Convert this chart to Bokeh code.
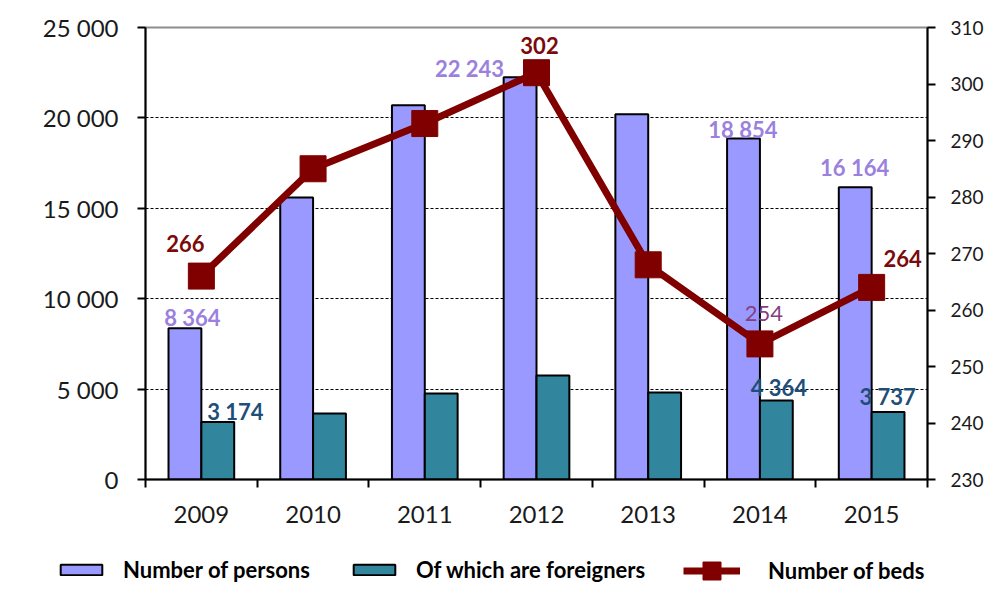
from bokeh.plotting import figure
from bokeh.layouts import column, row
from bokeh.models import (Range1d, LinearAxis, FixedTicker, Legend, LegendItem)
from bokeh.core.properties import value
from bokeh.embed import file_html
from bokeh.resources import INLINE

# ---------------- data ----------------
years = ["2009", "2010", "2011", "2012", "2013", "2014", "2015"]
persons = [8364, 15600, 20700, 22243, 20200, 18854, 16164]
foreigners = [3174, 3650, 4760, 5750, 4810, 4364, 3737]
beds = [266, 285, 293, 302, 268, 254, 264]

left_ticks = [0, 5000, 10000, 15000, 20000, 25000]
right_ticks = [230, 240, 250, 260, 270, 280, 290, 300, 310]

series_names = ["Number of persons", "Of which are foreigners", "Number of beds"]

# which values carry a data label
persons_labelled = [True, False, False, True, False, True, True]
foreigners_labelled = [True, False, False, False, False, True, True]
beds_labelled = [True, False, False, True, False, True, True]

# ---------------- layout / style ----------------
FONT = "Lato"
C_PERSONS = "#9999FF"
C_FOREIGN = "#31859C"
C_BEDS = "#800000"
n = len(years)
centers = [i + 0.5 for i in range(n)]
bw = 0.294

p = figure(width=986, height=539, output_backend="svg", toolbar_location=None,
           x_range=Range1d(0, n), y_range=Range1d(0, 25000),
           min_border_left=145, min_border_right=54, min_border_top=27,
           min_border_bottom=60, y_axis_location=None, x_axis_location=None)
p.extra_y_ranges = {"beds": Range1d(230, 310)}
p.background_fill_color = "white"
p.border_fill_color = "white"
p.outline_line_color = "#8c8c8c"
p.outline_line_width = 2

# axes
xaxis = LinearAxis(ticker=FixedTicker(ticks=centers, minor_ticks=list(range(n + 1))),
                   major_label_overrides={c: y for c, y in zip(centers, years)})
xaxis.major_tick_out = 0
xaxis.major_tick_in = 0
xaxis.minor_tick_out = 8
xaxis.minor_tick_in = 0
xaxis.minor_tick_line_color = "black"
xaxis.minor_tick_line_width = 2
xaxis.axis_line_color = "black"
xaxis.axis_line_width = 2
xaxis.major_label_standoff = 18
p.add_layout(xaxis, "below")

yl = LinearAxis(ticker=FixedTicker(ticks=left_ticks),
                major_label_overrides={v: f"{v:,}".replace(",", " ") for v in left_ticks})
yl.major_tick_out = 8
yl.major_tick_in = 0
yl.minor_tick_out = 0
yl.minor_tick_in = 0
yl.axis_line_width = 2
yl.major_tick_line_width = 2
yl.major_label_standoff = 19
p.add_layout(yl, "left")

yr = LinearAxis(y_range_name="beds", ticker=FixedTicker(ticks=right_ticks))
yr.major_tick_out = 8
yr.major_tick_in = 0
yr.minor_tick_out = 0
yr.minor_tick_in = 0
yr.axis_line_width = 2
yr.major_tick_line_width = 2
yr.major_label_standoff = 15
p.add_layout(yr, "right")

for ax, size in ((xaxis, "24px"), (yl, "24px"), (yr, "19px")):
    ax.major_label_text_font = FONT
    ax.major_label_text_font_size = size
    ax.major_label_text_color = "#1a1a1a"

# grid
p.xgrid.visible = False
p.ygrid.ticker = FixedTicker(ticks=left_ticks[1:-1])
p.ygrid.grid_line_color = "black"
p.ygrid.grid_line_dash = "3 2"
p.ygrid.grid_line_width = 1

# bars and line
p.vbar(x=[c - bw / 2 for c in centers], top=persons, bottom=0, width=bw,
       fill_color=C_PERSONS, line_color="black", line_width=2)
p.vbar(x=[c + bw / 2 for c in centers], top=foreigners, bottom=0, width=bw,
       fill_color=C_FOREIGN, line_color="black", line_width=2)
p.line(x=centers, y=beds, y_range_name="beds", line_color=C_BEDS, line_width=7)
p.scatter(x=centers, y=beds, y_range_name="beds", marker="square", size=26,
          fill_color=C_BEDS, line_color=C_BEDS)

# data labels (offsets are layout only)
def fmt(v):
    return f"{v:,}".replace(",", " ")

persons_off = [(-9, -11), None, None, (-67, -9), None, (-17, -9), (-17, -20)]
foreign_off = [(34, -11), None, None, None, None, (19, -13), (16, -15)]
beds_off = [(-16, -33), None, None, (3, -27), None, (4, -30), (31, -29)]

def add_labels(vals, flags, offs, color, weight, yname=None):
    xs, ys, ts, xo, yo = [], [], [], [], []
    for i, (v, f) in enumerate(zip(vals, flags)):
        if not f:
            continue
        xs.append(centers[i]); ys.append(v); ts.append(fmt(v))
        xo.append(offs[i][0]); yo.append(offs[i][1])
    kw = dict(y_range_name=yname) if yname else {}
    p.text(x=xs, y=ys, text=ts, x_offset=xo, y_offset=yo, text_color=color,
           text_align="center", text_baseline="middle", text_font=value(FONT),
           text_font_size="22px", text_font_style=weight, **kw)

add_labels(persons, persons_labelled, persons_off, "#9B80DE", "bold")
add_labels(foreigners, foreigners_labelled, foreign_off, "#1F4E79", "bold")
bold_beds = [True, False, False, True, False, False, True]
add_labels(beds, [f and b for f, b in zip(beds_labelled, bold_beds)], beds_off,
           "#7B0A0A", "bold", yname="beds")
add_labels(beds, [f and not b for f, b in zip(beds_labelled, bold_beds)], beds_off,
           "#86407E", "normal", yname="beds")

# ---------------- legend strip ----------------
# hidden copies of the three series, used only for their legend swatches
lg = figure(width=986, height=50, output_backend="svg", toolbar_location=None,
            x_range=Range1d(0, n), y_range=Range1d(0, 25000),
            min_border=0, x_axis_location=None, y_axis_location=None)
lg.extra_y_ranges = {"beds": Range1d(230, 310)}
lg.grid.visible = False
lg.outline_line_color = None
lg.background_fill_color = "white"
lg.border_fill_color = "white"
g1 = lg.vbar(x=centers, top=persons, bottom=0, width=bw, visible=False,
             fill_color=C_PERSONS, line_color="black", line_width=2)
g2 = lg.vbar(x=centers, top=foreigners, bottom=0, width=bw, visible=False,
             fill_color=C_FOREIGN, line_color="black", line_width=2)
g3 = lg.line(x=centers, y=beds, y_range_name="beds", visible=False,
             line_color=C_BEDS, line_width=7)
g4 = lg.scatter(x=centers, y=beds, y_range_name="beds", marker="square", size=18,
                visible=False, fill_color=C_BEDS, line_color=C_BEDS)


def style_legend(lgd):
    lgd.label_text_font = FONT
    lgd.label_text_font_style = "bold"
    lgd.label_text_font_size = "22px"
    lgd.label_text_color = "black"
    lgd.padding = 0
    lgd.margin = 0
    lgd.border_line_color = None
    lgd.background_fill_alpha = 0
    lgd.inactive_fill_alpha = 0
    lgd.click_policy = "none"


legend_a = Legend(items=[
    LegendItem(label=series_names[0], renderers=[g1]),
    LegendItem(label=series_names[1], renderers=[g2]),
], orientation="horizontal", location=(55, 6))
style_legend(legend_a)
legend_a.glyph_width = 52
legend_a.glyph_height = 13
legend_a.label_standoff = 16
legend_a.spacing = 38
lg.add_layout(legend_a, "center")

legend_b = Legend(items=[
    LegendItem(label=series_names[2], renderers=[g3, g4]),
], orientation="horizontal", location=(683, -4))
style_legend(legend_b)
legend_b.glyph_width = 57
legend_b.glyph_height = 45
legend_b.label_standoff = 28
lg.add_layout(legend_b, "center")

layout = column(p, row(lg), spacing=0)
open("out.html", "w").write(file_html(layout, INLINE))
